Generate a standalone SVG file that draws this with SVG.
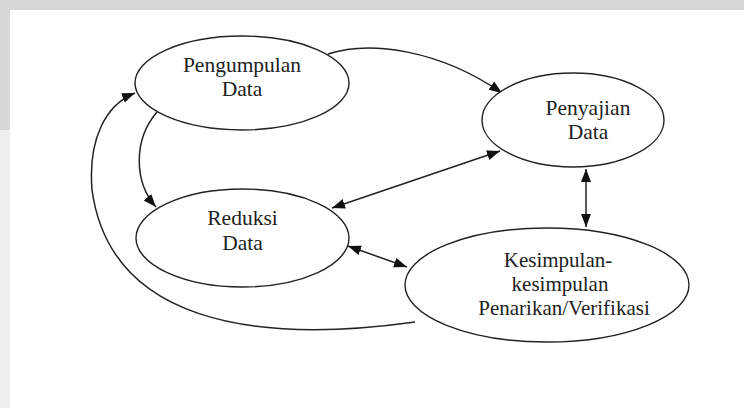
<svg xmlns="http://www.w3.org/2000/svg" width="744" height="408" viewBox="0 0 744 408">
<style>
.node ellipse{fill:#fff;stroke:#222;stroke-width:1.4}
.node text{font-family:"Liberation Serif","Times New Roman",serif;font-size:21.5px;fill:#222;text-anchor:middle}
.node text.sm{font-size:21px}
#connectors path{fill:none;stroke:#222;stroke-width:1.5}
</style>
<defs>
<marker id="ah" markerUnits="userSpaceOnUse" markerWidth="14" markerHeight="12" refX="13" refY="5" orient="auto-start-reverse">
<path d="M0,0 L13,5 L0,10 Z" fill="#111"/>
</marker>
</defs>
<rect x="0" y="0" width="744" height="408" fill="#ffffff"/>
<rect x="0" y="0" width="744" height="10" fill="#d8d8d8"/>
<rect x="0" y="0" width="10" height="130" fill="#d8d8d8"/>
<rect x="0" y="130" width="10" height="278" fill="#efefef"/>
<g id="connectors">
<path d="M328,54 C370,40 440,50 502,93" marker-end="url(#ah)"/>
<path d="M500,151 L332,208" marker-start="url(#ah)" marker-end="url(#ah)"/>
<path d="M586,169 L586,227" marker-start="url(#ah)" marker-end="url(#ah)"/>
<path d="M348,246 L407,267" marker-start="url(#ah)" marker-end="url(#ah)"/>
<path d="M157,112 C133,140 134,182 156,207" marker-end="url(#ah)"/>
<path d="M415,322 C250,345 110,320 92,190 C88,140 105,105 135,93" marker-end="url(#ah)"/>
</g>
<g id="pengumpulan" class="node">
<ellipse cx="242" cy="83" rx="107" ry="47"/>
<text x="242" y="72">Pengumpulan</text>
<text x="242" y="96">Data</text>
</g>
<g id="penyajian" class="node">
<ellipse cx="573" cy="120" rx="91" ry="47"/>
<text x="588" y="115">Penyajian</text>
<text x="588" y="139">Data</text>
</g>
<g id="reduksi" class="node">
<ellipse cx="242.5" cy="238" rx="106.5" ry="49"/>
<text x="242.5" y="225">Reduksi</text>
<text x="242.5" y="250">Data</text>
</g>
<g id="kesimpulan" class="node">
<ellipse cx="547" cy="285" rx="142" ry="57"/>
<text class="sm" x="558" y="267">Kesimpulan-</text>
<text class="sm" x="560" y="291">kesimpulan</text>
<text class="sm" x="564" y="315">Penarikan/Verifikasi</text>
</g>
</svg>
